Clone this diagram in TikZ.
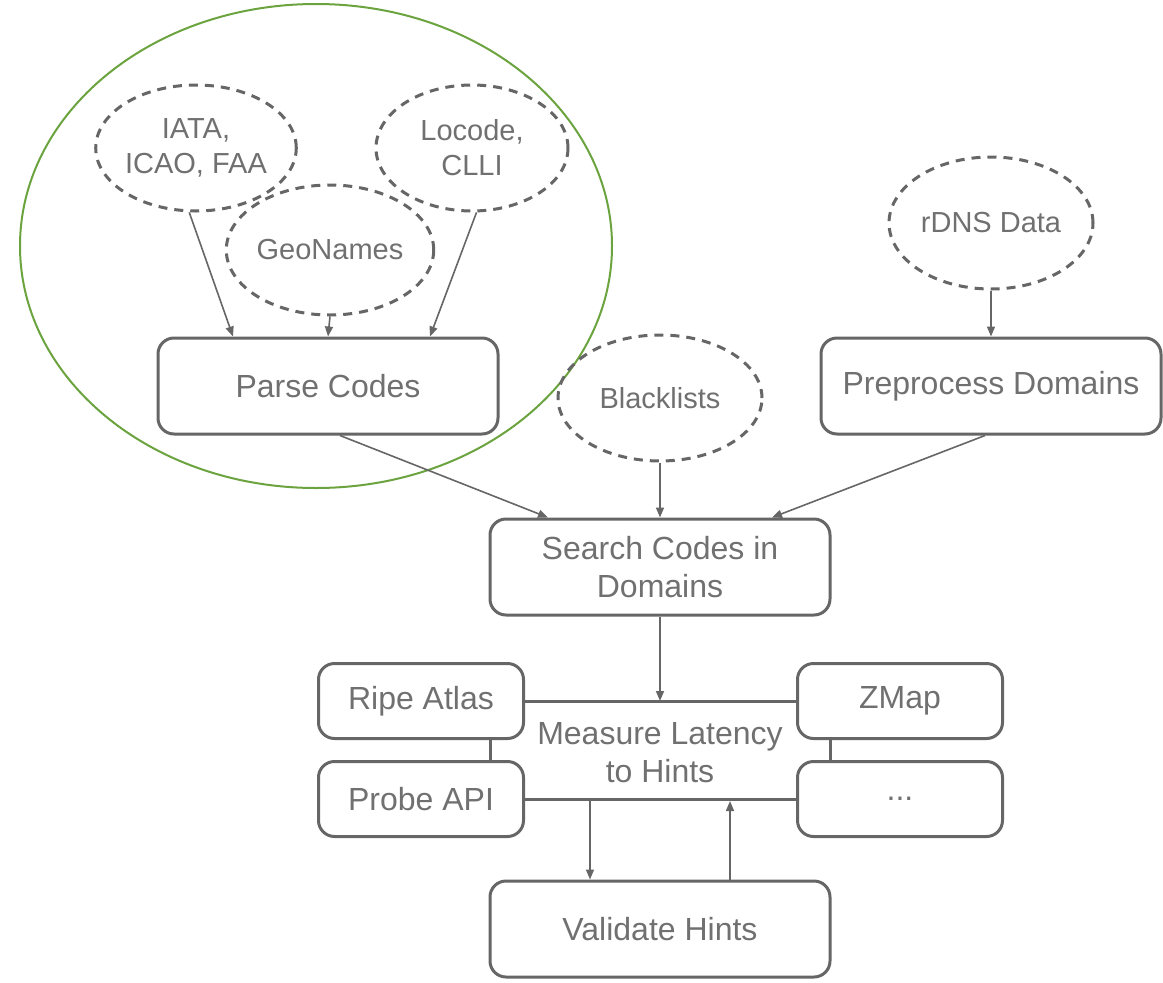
\documentclass[tikz,border=0pt]{standalone}
\usepackage{fontspec}
\setmainfont{Liberation Sans}
\usetikzlibrary{shapes.geometric,arrows.meta,calc}
\definecolor{linegray}{HTML}{666666}
\definecolor{textgray}{HTML}{707070}
\definecolor{groupgreen}{HTML}{6BA33F}
\begin{document}
\begin{tikzpicture}[x=1pt,y=-1pt,
  stepbox/.style={draw=linegray,line width=3pt,rounded corners=16pt,
    minimum width=340pt,minimum height=96pt,inner sep=0pt,align=center,
    text=textgray,font=\fontsize{32}{38}\selectfont},
  smallbox/.style={stepbox,minimum width=205pt,minimum height=75pt},
  source/.style={draw=linegray,ellipse,line width=3pt,dash pattern=on 9pt off 7pt,
    inner sep=0pt,align=center,text=textgray,font=\fontsize{29}{35}\selectfont},
  plain/.style={inner sep=0pt,align=center,text=textgray,font=\fontsize{32}{38}\selectfont},
  flow/.style={draw=linegray,line width=1.6pt,-{Triangle[length=10pt,width=8pt]}},
  link/.style={draw=linegray,line width=3pt}]
\useasboundingbox (0,0) rectangle (1163,983);

% group outline around the code sources
\draw[groupgreen,line width=2pt] (316,246) ellipse [x radius=296, y radius=242];

% data sources
\node[source,minimum width=192pt,minimum height=126pt] (iata) at (196,148) {IATA,\\ICAO, FAA};
\node[source,minimum width=192pt,minimum height=126pt] (locode) at (472,148) {Locode,\\CLLI};
\node[source,minimum width=202pt,minimum height=130pt] (geo) at (330,250) {GeoNames};
\node[source,minimum width=204pt,minimum height=132pt] (rdns) at (991,223) {rDNS Data};
\node[source,minimum width=204pt,minimum height=126pt] (black) at (660,398) {Blacklists};

% processing steps
\node[stepbox] (parse) at (328,386) {Parse Codes};
\node[stepbox] (prep) at (991,386) {Preprocess Domains};
\node[stepbox] (search) at (660,567) {Search Codes in\\Domains};
\node[stepbox] (validate) at (660,929) {Validate Hints};

% measurement platforms
\node[smallbox] (ripe) at (421,701) {Ripe Atlas};
\node[smallbox] (probe) at (421,799) {Probe API};
\node[smallbox] (zmap) at (900,701) {ZMap};
\node[smallbox] (more) at (900,799) {...};
\node[plain] (measure) at (660,753) {Measure Latency\\to Hints};

% frame of the latency step
\draw[link] (ripe.east) -- (zmap.west);
\draw[link] (probe.east) -- (more.west);
\coordinate (lx) at (490,0);
\coordinate (rx) at (830,0);
\draw[link] (ripe.south -| lx) -- (probe.north -| lx);
\draw[link] (zmap.south -| rx) -- (more.north -| rx);

% inputs of Parse Codes
\draw[flow] (iata.264) -- ($(parse.north)+(-95,0)$);
\draw[flow] (geo.south) -- (parse.north);
\draw[flow] (locode.274) -- ($(parse.north)+(102,0)$);
\draw[flow] (rdns.south) -- (prep.north);

% inputs of the search
\draw[flow] ($(parse.south)+(12,0)$) -- ($(search.north)+(-112,0)$);
\draw[flow] (black.south) -- (search.north);
\draw[flow] ($(prep.south)+(-6,0)$) -- ($(search.north)+(112,0)$);

% search to measurement and validation loop
\draw[flow] (search.south) -- (search.south |- ripe.east);
\coordinate (down) at (590,799);
\coordinate (up) at (730,801);
\draw[flow] (down) -- (down |- validate.north);
\draw[flow] (up |- validate.north) -- (up);
\end{tikzpicture}
\end{document}
